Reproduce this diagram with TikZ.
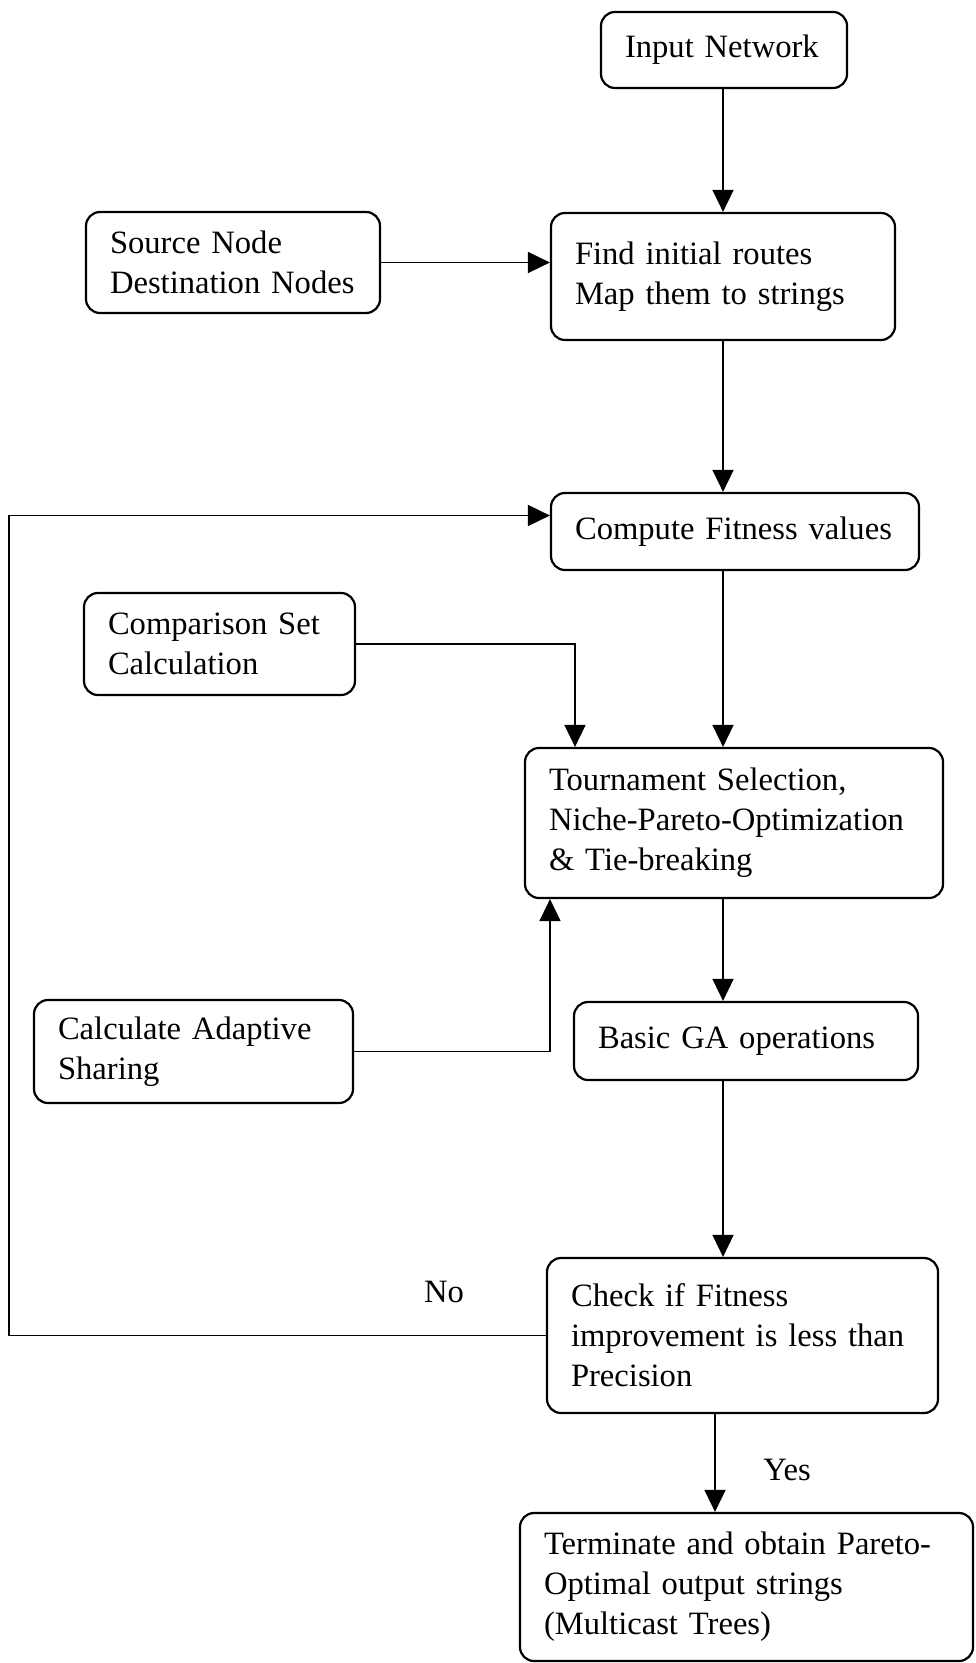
\documentclass[tikz,border=0pt]{standalone}
\usepackage{fontspec}
\setmainfont{Liberation Serif}
\usepackage{tikz}
\usetikzlibrary{arrows.meta, calc}

\tikzset{
	blok/.style = {draw, line width = 1.1pt, rounded corners = 7pt, align = left, inner xsep = 12pt, inner ysep = 0pt, font = \fontsize{16.3}{20}\selectfont},
	lbl/.style = {font = \fontsize{16.3}{20}\selectfont},
	lijn/.style = {line width = 0.8pt, -{Triangle[length = 11pt, width = 10.5pt]}}
}

\begin{document}
\begin{tikzpicture}[x = 0.5pt, y = -0.5pt]
	    \useasboundingbox (0,0) rectangle (975,1663);
	    \node[blok, text width = 99pt, minimum height = 38pt] (in_net) at (724,50) {Input Network};
	    \node[blok, text width = 123pt, minimum height = 50.5pt] (src) at (233,262.5) {Source Node\\Destination Nodes};
	    \node[blok, text width = 148pt, minimum height = 63.5pt] (routes) at (723,276.5) {Find initial routes\\Map them to strings};
	    \node[blok, text width = 160pt, minimum height = 38.5pt] (fitness) at (735,531.5) {Compute Fitness values};
	    \node[blok, text width = 111.5pt, minimum height = 51pt] (compset) at (219.5,644) {Comparison Set\\Calculation};
	    \node[blok, text width = 185pt, minimum height = 75pt] (tourn) at (734,823) {Tournament Selection,\\Niche-Pareto-Optimization\\\& Tie-breaking};
	    \node[blok, text width = 135.5pt, minimum height = 51.5pt] (sharing) at (193.5,1051.5) {Calculate Adaptive\\Sharing};
	    \node[blok, text width = 148pt, minimum height = 39pt] (basic_ga) at (746,1041) {Basic GA operations};
	    \node[blok, text width = 171.5pt, minimum height = 77.5pt] (check) at (742.5,1335.5) {Check if Fitness\\improvement is less than\\Precision};
	    \node[blok, text width = 202.5pt, minimum height = 74pt] (term) at (746.5,1587) {Terminate and obtain Pareto-\\Optimal output strings\\(Multicast Trees)};
	    \node[lbl] (no_lbl) at (444,1292) {No};
	    \node[lbl] (yes_lbl) at (787,1470) {Yes};
	    \coordinate (no_x) at (9,0);
	    \draw[lijn] (in_net.south -| routes.north) -- (routes.north);
	    \draw[lijn] (src.east) -- (src.east -| routes.west);
	    \draw[lijn] (routes.south) -- (routes.south |- fitness.north);
	    \draw[lijn] (routes.south |- fitness.south) -- (routes.south |- tourn.north);
	    \draw[lijn] (compset.east) -| ([xshift = -79.5pt]tourn.north);
	    \draw[lijn] (sharing.east) -| ([xshift = -92pt]tourn.south);
	    \draw[lijn] (routes.south |- tourn.south) -- (routes.south |- basic_ga.north);
	    \draw[lijn] (routes.south |- basic_ga.south) -- (routes.south |- check.north);
	    \draw[lijn] (check.west) -- (check.west -| no_x) |- ([yshift = 8pt]fitness.west);
	    \draw[lijn] ([xshift = -13.75pt]check.south) -- ([xshift = -13.75pt]check.south |- term.north);
	\end{tikzpicture}
\end{document}
